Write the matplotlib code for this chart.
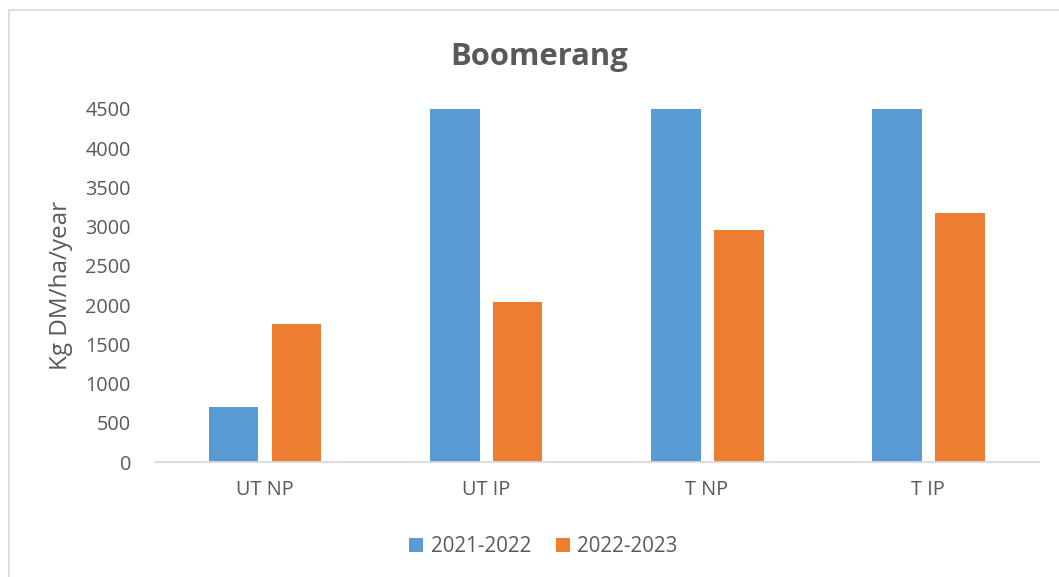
import matplotlib
matplotlib.use("Agg")
import matplotlib.pyplot as plt
from matplotlib.patches import Rectangle
import numpy as np

categories = ["UT NP", "UT IP", "T NP", "T IP"]
series_names = ["2021-2022", "2022-2023"]
values_2021_2022 = [700, 4500, 4500, 4500]
values_2022_2023 = [1765, 2040, 2960, 3180]
y_ticks = [0, 500, 1000, 1500, 2000, 2500, 3000, 3500, 4000, 4500]

BLUE = "#5B9BD5"
ORANGE = "#ED7D31"
TEXT = "#595959"

plt.rcParams["font.family"] = ["Open Sans", "DejaVu Sans"]

fig = plt.figure(figsize=(10.59, 5.77), dpi=100)
ax = fig.add_axes([0.1459, 0.1993, 0.8348, 0.6118])

x = np.arange(len(categories))
width = 0.226
offset = 0.1425
ax.bar(x - offset, values_2021_2022, width, color=BLUE, label=series_names[0])
ax.bar(x + offset, values_2022_2023, width, color=ORANGE, label=series_names[1])

ax.set_xlim(-0.5, len(categories) - 0.5)
ax.set_ylim(0, 4500)
ax.set_yticks(y_ticks)
ax.set_xticks(x)
ax.set_xticklabels(categories)
ax.tick_params(axis="both", length=0, labelsize=14.3, labelcolor=TEXT)
ax.tick_params(axis="y", pad=17)
ax.tick_params(axis="x", pad=13)

for side in ["top", "right", "left"]:
    ax.spines[side].set_visible(False)
ax.spines["bottom"].set_color("#D9D9D9")
ax.spines["bottom"].set_linewidth(1.3)

ax.set_ylabel("Kg DM/ha/year", fontsize=17.5, color=TEXT, labelpad=9)

fig.text(0.509, 0.902, "Boomerang", ha="center", va="center",
         fontsize=22.3, fontweight="bold", color=TEXT)

leg = fig.legend(loc="center", bbox_to_anchor=(0.513, 0.052), ncol=2,
                 frameon=False, fontsize=14.8, handlelength=0.7,
                 handleheight=0.7, handletextpad=0.35, columnspacing=1.2)
for t in leg.get_texts():
    t.set_color(TEXT)

# light outer frame of the chart area
fig.patches.append(Rectangle((9 / 1059, -0.01), 1.1, 1 - 10 / 577 + 0.01,
                             transform=fig.transFigure, fill=False,
                             edgecolor="#D9D9D9", linewidth=1.2))

fig.savefig("out.png", dpi=100)
